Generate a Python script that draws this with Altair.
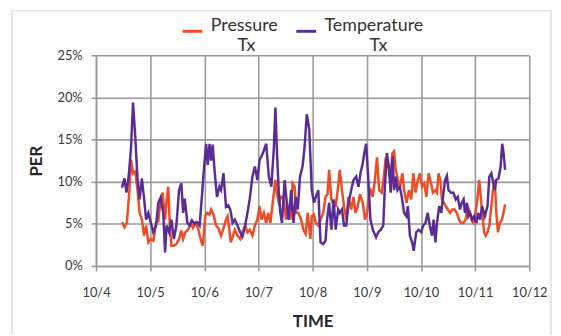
import json
import altair as alt
import pandas as pd

# ---- data (hours after 10/4 00:00, PER in %) ----
pressure_hours = [11.5, 12.6, 13.7, 14.8, 15.5, 16.4, 17.4, 18.4, 19.3, 20.3, 21.3, 22.2, 23.2, 24.2, 25.4,
                  26.6, 27.6, 28.6, 29.5, 30.6, 31.3, 32.0, 32.7, 33.4, 34.5, 35.6, 36.8, 37.8, 38.6, 39.6,
                  40.8, 42.0, 43.0, 44.0, 45.2, 46.3, 47.3, 48.4, 49.2, 50.3, 51.0, 52.2, 53.2, 54.2, 55.4,
                  56.5, 57.6, 58.3, 59.0, 59.7, 60.5, 61.5, 62.7, 63.9, 64.9, 66.1, 67.1, 68.1, 69.3, 70.4,
                  71.5, 72.5, 73.3, 74.4, 75.4, 76.3, 77.3, 78.3, 79.5, 80.2, 81.0, 82.1, 83.2, 84.2, 85.0,
                  86.1, 87.1, 88.0, 88.7, 89.7, 90.9, 91.9, 92.9, 93.8, 94.6, 95.0, 95.6, 96.6, 97.4, 98.5,
                  99.5, 100.7, 101.7, 102.6, 103.3, 104.3, 105.3, 106.2, 107.3, 108.0, 109.0, 109.9, 110.9,
                  111.9, 113.1, 114.1, 115.0, 116.0, 117.0, 118.2, 119.2, 120.1, 121.1, 121.8, 122.6, 123.6,
                  124.5, 125.5, 126.6, 127.4, 128.4, 129.4, 130.3, 131.4, 132.1, 132.8, 133.8, 134.7, 135.8,
                  136.5, 137.6, 138.7, 139.7, 140.6, 141.6, 142.6, 143.5, 144.5, 145.5, 146.4, 147.4, 148.5,
                  149.3, 150.4, 151.1, 151.8, 152.6, 153.3, 154.2, 155.0, 155.9, 156.9, 157.9, 158.8, 159.9,
                  160.9, 161.8, 162.8, 163.8, 164.7, 165.7, 166.4, 167.3, 168.2, 169.1, 169.8, 170.5, 171.1,
                  172.0, 172.7, 173.5, 174.3, 175.2, 175.9, 176.7, 177.4, 178.1, 179.0, 179.9, 180.6, 181.3]
pressure_values = [5.2, 4.6, 5.2, 9.0, 12.6, 11.0, 11.2, 9.0, 6.3, 5.5, 3.6, 4.8, 2.8, 3.2, 3.0,
                   5.1, 5.3, 7.9, 8.7, 5.5, 7.9, 9.4, 4.8, 2.4, 2.4, 2.6, 3.2, 4.2, 3.2, 4.0,
                   4.3, 5.1, 4.5, 5.1, 4.5, 3.2, 2.4, 5.9, 6.3, 6.1, 6.7, 6.0, 4.8, 4.5, 3.6,
                   4.5, 5.5, 5.9, 4.5, 2.8, 3.4, 4.3, 3.6, 3.2, 4.0, 4.8, 4.0, 4.3, 3.6, 4.8,
                   5.5, 7.1, 5.5, 6.3, 5.1, 6.3, 5.1, 7.5, 10.2, 8.7, 7.5, 8.2, 7.9, 5.5, 7.1,
                   5.5, 9.8, 9.4, 6.3, 6.3, 5.5, 4.3, 3.8, 6.3, 4.3, 3.2, 5.9, 6.1, 5.1, 4.8,
                   5.5, 6.3, 8.2, 8.5, 11.4, 7.9, 7.1, 7.1, 9.4, 11.4, 9.0, 7.1, 5.5,
                   8.2, 6.7, 8.2, 6.3, 7.1, 8.5, 7.5, 5.5, 6.3, 8.7, 9.0, 8.2, 10.2,
                   12.9, 9.0, 8.7, 10.2, 12.9, 12.2, 10.2, 13.4, 13.6, 11.4, 10.2, 9.4, 11.0,
                   9.0, 7.5, 9.0, 7.9, 11.0, 8.7, 10.2, 11.0, 9.4, 9.8, 8.2, 11.0, 9.8,
                   8.7, 9.0, 8.7, 11.0, 10.2, 7.9, 7.5, 7.1, 6.7, 6.3, 6.7, 6.7, 6.3,
                   5.5, 5.1, 5.1, 5.5, 7.1, 6.3, 5.5, 5.1, 6.3, 8.2, 10.2, 8.2, 6.3,
                   4.0, 3.6, 4.0, 4.8, 7.1, 9.0, 10.2, 6.3, 4.0, 5.1, 5.5, 6.3, 7.3]

temperature_hours = [11.5, 12.6, 13.5, 14.5, 15.5, 16.4, 17.4, 18.4, 19.3, 20.3, 21.3, 22.2, 23.2, 24.2, 25.4,
                     26.6, 27.6, 28.6, 29.8, 30.6, 31.3, 32.4, 33.4, 34.5, 35.6, 36.8, 37.8, 38.6, 39.3, 40.5,
                     41.5, 42.5, 43.7, 44.8, 45.9, 46.9, 47.8, 48.8, 49.5, 50.3, 51.0, 51.7, 52.5, 53.6, 54.7,
                     55.4, 56.5, 57.6, 58.6, 59.5, 60.5, 61.5, 62.7, 63.9, 64.9, 66.1, 67.1, 68.1, 69.3, 70.4,
                     71.5, 72.5, 73.3, 74.4, 75.4, 76.6, 77.7, 78.8, 79.5, 80.2, 81.0, 81.7, 82.4, 83.6, 84.3,
                     85.3, 86.5, 87.5, 88.5, 89.4, 90.4, 91.5, 92.4, 93.4, 94.5, 95.6, 96.6, 97.4, 98.5, 99.5,
                     100.7, 101.7, 102.4, 103.3, 104.3, 105.3, 106.2, 107.3, 108.0, 109.0, 109.9, 110.9, 111.9,
                     113.1, 114.1, 115.3, 116.3, 117.2, 118.2, 118.9, 119.7, 120.7, 121.6, 122.8, 124.1, 125.1,
                     126.2, 127.3, 128.0, 128.9, 129.9, 130.6, 131.4, 132.1, 132.8, 133.6, 134.6, 135.5, 136.5,
                     137.5, 138.2, 139.1, 140.1, 140.8, 141.9, 143.0, 144.1, 145.0, 146.0, 147.0, 147.9, 148.9,
                     149.6, 150.4, 151.1, 152.1, 153.0, 154.0, 154.7, 155.5, 156.2, 157.4, 158.4, 159.4, 160.3,
                     161.3, 162.1, 162.9, 163.5, 164.4, 165.0, 165.8, 166.7, 167.6, 168.6, 169.3, 170.2, 171.1,
                     172.3, 173.5, 174.3, 175.2, 176.1, 176.7, 177.4, 178.4, 179.3, 180.0, 180.6, 181.3]
temperature_values = [9.3, 10.4, 8.7, 10.7, 14.0, 19.4, 15.3, 10.2, 7.9, 10.4, 8.0, 5.5, 6.3, 5.2, 4.0,
                      4.8, 7.5, 8.1, 6.3, 1.6, 4.8, 4.0, 5.5, 3.2, 4.8, 9.0, 9.8, 6.3, 8.0, 5.1,
                      4.8, 5.4, 5.0, 5.2, 4.8, 8.2, 11.4, 14.5, 12.0, 14.5, 12.5, 14.4, 11.4, 8.2, 9.4,
                      9.0, 11.0, 7.0, 7.2, 6.7, 5.1, 5.5, 4.8, 4.0, 3.5, 4.8, 6.3, 7.9, 10.6, 11.8,
                      10.2, 12.6, 13.0, 13.7, 14.5, 10.6, 9.4, 14.0, 18.8, 13.4, 8.7, 6.3, 5.1, 10.2, 8.2,
                      5.5, 9.0, 5.1, 8.2, 6.7, 10.6, 11.8, 14.0, 18.0, 16.2, 9.0, 7.5, 8.2, 9.0, 2.8,
                      2.6, 3.0, 5.5, 7.5, 4.3, 7.9, 4.3, 6.7, 6.3, 6.7, 4.8, 4.8, 7.5,
                      9.0, 10.2, 10.6, 9.4, 11.0, 12.2, 13.4, 14.5, 10.2, 5.5, 4.2, 3.4, 4.0,
                      4.3, 4.8, 9.4, 13.4, 11.4, 8.7, 13.0, 9.0, 10.6, 9.0, 9.4, 8.2, 6.3,
                      5.9, 7.1, 3.6, 2.8, 1.8, 4.0, 4.3, 4.0, 4.8, 5.1, 6.3, 4.8, 3.6,
                      5.5, 2.8, 5.1, 7.1, 6.3, 8.7, 10.2, 10.7, 9.0, 8.7, 8.7, 7.9, 8.2,
                      6.7, 7.5, 7.9, 6.3, 7.5, 5.9, 6.3, 5.5, 5.9, 5.1, 6.3, 5.5, 7.1,
                      5.9, 7.1, 10.6, 11.0, 9.8, 9.0, 10.2, 10.4, 11.8, 14.5, 13.4, 11.4]

series_names = ["Pressure Tx", "Temperature Tx"]
series_colors = ["#EE4B26", "#5A2D96"]
day_ticks = [0, 1, 2, 3, 4, 5, 6, 7, 8]
day_labels = ["10/4", "10/5", "10/6", "10/7", "10/8", "10/9", "10/10", "10/11", "10/12"]
per_ticks = [0, 0.05, 0.10, 0.15, 0.20, 0.25]

rows = []
for h, v in zip(pressure_hours, pressure_values):
    rows.append({"day": h / 24.0, "per": v / 100.0, "series": series_names[0]})
for h, v in zip(temperature_hours, temperature_values):
    rows.append({"day": h / 24.0, "per": v / 100.0, "series": series_names[1]})
df = pd.DataFrame(rows)

FONT = "Lato"
GRID = "#9a9a9a"

label_expr = "[" + ",".join(json.dumps(s) for s in day_labels) + "][datum.value]"
zw = "\u200b"
nb = "\u00a0"
legend_expr = ("datum.label == 'Pressure Tx' ? ['Pressure', '" + zw + nb * 6 + "Tx'] : "
               "['Temperature', '" + zw + nb * 10 + "Tx']")

lines = alt.Chart(df).mark_line(strokeWidth=2.5).encode(
    x=alt.X("day:Q",
            scale=alt.Scale(domain=[0, 8], nice=False, zero=False),
            axis=alt.Axis(values=day_ticks, labelExpr=label_expr, title="TIME",
                          labelFlush=False, labelOverlap=False, tickSize=5,
                          labelPadding=16, titlePadding=14)),
    y=alt.Y("per:Q",
            scale=alt.Scale(domain=[0, 0.25], nice=False),
            axis=alt.Axis(values=per_ticks, format=".0%", title="PER", tickSize=5,
                          labelPadding=9, titlePadding=12)),
    color=alt.Color("series:N",
                    scale=alt.Scale(domain=series_names, range=series_colors),
                    legend=alt.Legend(title=None, orient="none", legendX=86, legendY=-36,
                                      direction="horizontal", symbolType="stroke",
                                      symbolSize=400, symbolStrokeWidth=3,
                                      labelFontSize=18, labelColor="#333333",
                                      labelFont=FONT, labelExpr=legend_expr,
                                      labelBaseline="alphabetic", labelOffset=7,
                                      columnPadding=12, labelLimit=300)),
)

frame = alt.Chart(alt.Data(values=[{}])).mark_rect(
    filled=False, stroke="#d6d6d6", strokeWidth=1.2, clip=False
).encode(
    x=alt.value(-85), x2=alt.value(460), y=alt.value(-45), y2=alt.value(300)
)

chart = alt.layer(frame, lines).properties(
    width=438, height=213,
    padding={"left": 89, "top": 46, "right": 24, "bottom": 68},
    autosize=alt.AutoSizeParams(type="none"),
).configure_view(strokeWidth=0).configure_axis(
    labelFont=FONT, titleFont=FONT, labelFontSize=13, labelColor="#3a3a3a",
    titleFontSize=17, titleFontWeight="bold", titleColor="#262626",
    gridColor=GRID, gridWidth=1.6, domainColor=GRID, domainWidth=1.6,
    tickColor=GRID, tickWidth=1.6, gridOpacity=1
)

chart.save("out.html", embed_options={"renderer": "svg", "actions": False})
